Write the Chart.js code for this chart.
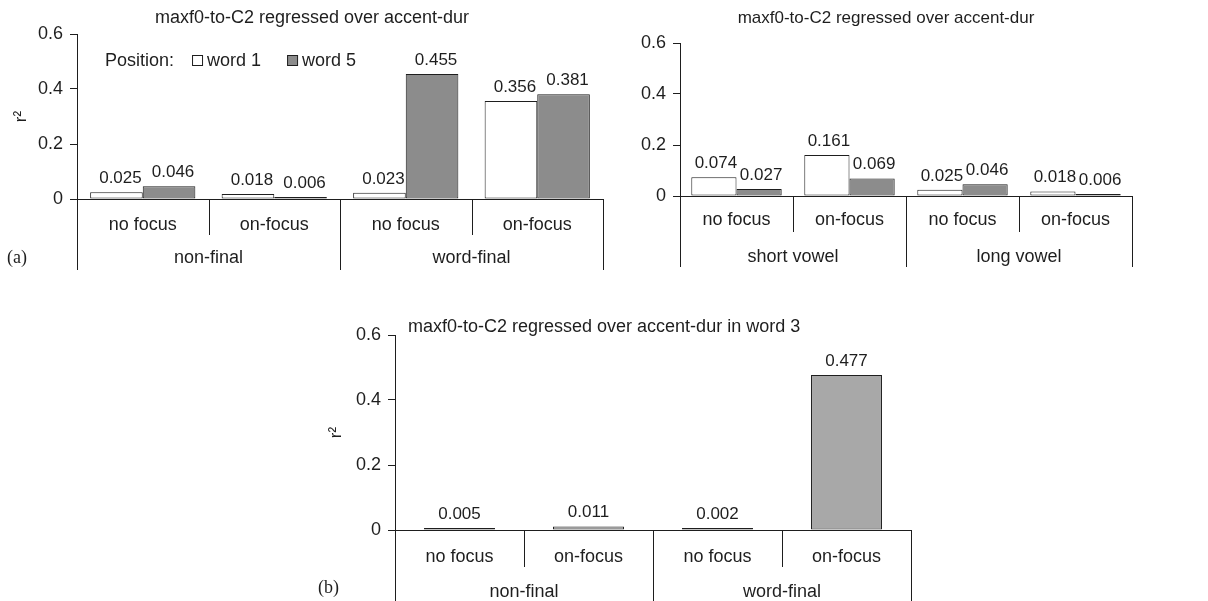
<!DOCTYPE html>
<html>
<head>
<meta charset="utf-8">
<script src="https://cdn.jsdelivr.net/npm/chart.js@4"></script>
<style>
  html, body { margin: 0; padding: 0; background: #ffffff; }
  body { width: 1208px; height: 601px; position: relative; overflow: hidden; }
  .panel { position: absolute; }
</style>
</head>
<body>
<div class="panel" style="left:0px;top:0px;width:620px;height:280px"><canvas id="chartBoundary"></canvas></div>
<div class="panel" style="left:620px;top:0px;width:588px;height:280px"><canvas id="chartVowel"></canvas></div>
<div class="panel" style="left:300px;top:280px;width:640px;height:321px"><canvas id="chartWord3"></canvas></div>
<script>
// ---- data ----
const focusLabels = ['no focus', 'on-focus', 'no focus', 'on-focus'];
const boundaryGroups = ['non-final', 'word-final'];
const vowelGroups = ['short vowel', 'long vowel'];
const seriesNames = ['word 1', 'word 5'];
const word3Name = 'word 3';
const yTicks = [0, 0.2, 0.4, 0.6];

const boundaryWord1 = [0.025, 0.018, 0.023, 0.356];
const boundaryWord5 = [0.046, 0.006, 0.455, 0.381];
const vowelWord1 = [0.074, 0.161, 0.025, 0.018];
const vowelWord5 = [0.027, 0.069, 0.046, 0.006];
const word3Values = [0.005, 0.011, 0.002, 0.477];

const titleTop = 'maxf0-to-C2 regressed over accent-dur';
const titleWord3 = 'maxf0-to-C2 regressed over accent-dur in word 3';

// ---- styling ----
const INK = '#1e1e1e';
const FONT = '"Liberation Sans", Arial, Helvetica, sans-serif';
const SERIF = '"Liberation Serif", "Times New Roman", serif';
const WHITE = '#ffffff';
const GREY_DARK = '#8c8c8c';
const GREY_LIGHT = '#a8a8a8';

Chart.defaults.font.family = FONT;
Chart.defaults.color = INK;
Chart.defaults.animation = false;

// Two-level category axis, value labels, titles, legend and panel tag
const decorations = {
  id: 'decorations',
  afterDraw(chart, args, o) {
    const { ctx, chartArea: a, scales: { x } } = chart;
    const n = chart.data.labels.length;
    const w = (x.right - x.left) / n;
    ctx.save();
    ctx.strokeStyle = INK;
    ctx.lineWidth = 1;

    // divider lines below the axis
    for (let k = 0; k <= n; k++) {
      const px = Math.round(x.left + k * w) + 0.5;
      const long = k % o.groupSize === 0;
      ctx.beginPath();
      ctx.moveTo(px, a.bottom);
      ctx.lineTo(px, a.bottom + (long ? o.longDrop : o.shortDrop));
      ctx.stroke();
    }

    // category labels
    ctx.fillStyle = INK;
    ctx.textAlign = 'center';
    ctx.textBaseline = 'middle';
    ctx.font = '18px ' + FONT;
    chart.data.labels.forEach((lab, i) => {
      ctx.fillText(lab, x.getPixelForValue(i), a.bottom + o.subOffset);
    });
    o.groups.forEach((g, gi) => {
      const cx = x.left + (gi + 0.5) * o.groupSize * w;
      ctx.fillText(g, cx, a.bottom + o.groupOffset);
    });

    // value labels above bars
    ctx.font = '17px ' + FONT;
    ctx.textBaseline = 'alphabetic';
    chart.data.datasets.forEach((ds, di) => {
      const meta = chart.getDatasetMeta(di);
      meta.data.forEach((bar, j) => {
        ctx.fillText(ds.data[j].toFixed(3), bar.x + (o.labelShift || 0), bar.y - 9);
      });
    });

    // chart title
    ctx.font = o.title.size + 'px ' + FONT;
    ctx.textAlign = o.title.align;
    ctx.textBaseline = 'middle';
    ctx.fillText(o.title.text, o.title.x, o.title.y);

    // legend
    if (o.legend) {
      const L = o.legend;
      ctx.font = '18px ' + FONT;
      ctx.textAlign = 'left';
      ctx.fillText(L.caption, L.x, L.y);
      let cx = L.x + ctx.measureText(L.caption).width + L.gapAfterCaption;
      chart.data.datasets.forEach((ds) => {
        ctx.fillStyle = ds.backgroundColor;
        ctx.fillRect(cx + 0.5, L.y - 5.5, 10, 10);
        ctx.strokeStyle = INK;
        ctx.strokeRect(cx + 0.5, L.y - 5.5, 10, 10);
        ctx.fillStyle = INK;
        ctx.fillText(ds.label, cx + 15, L.y);
        cx += 15 + ctx.measureText(ds.label).width + L.gapBetween;
      });
    }

    // panel tag
    if (o.tag) {
      ctx.font = '18px ' + SERIF;
      ctx.textAlign = 'left';
      ctx.fillStyle = INK;
      ctx.fillText(o.tag.text, o.tag.x, o.tag.y);
    }
    ctx.restore();
  }
};

function yAxis(area, showTitle, titlePad) {
  return {
    type: 'linear',
    min: 0,
    max: 0.6,
    afterBuildTicks: (s) => { s.ticks = yTicks.map(v => ({ value: v })); },
    afterFit: (s) => { s.width = area.l; },
    ticks: {
      font: { size: 18 },
      color: INK,
      padding: 7,
      callback: (v) => (v === 0 ? '0' : v.toFixed(1))
    },
    grid: { display: true, drawOnChartArea: false, drawTicks: true, tickLength: 7, color: INK },
    border: { display: true, color: INK, width: 1 },
    title: {
      display: showTitle,
      text: 'r²',
      font: { size: 17 },
      color: INK,
      padding: { top: titlePad, bottom: 0 }
    }
  };
}

function xAxis(area, height) {
  return {
    type: 'category',
    offset: true,
    afterFit: (s) => { s.height = height - area.b; },
    ticks: { display: false },
    grid: { display: false },
    border: { display: true, color: INK, width: 1 }
  };
}

function barSet(label, data, fill) {
  return {
    label: label,
    data: data,
    backgroundColor: fill,
    borderColor: INK,
    borderWidth: 1,
    borderSkipped: false,
    minBarLength: 2
  };
}

function makeChart(id, width, height, area, datasets, catPct, deco, showTitle, titlePad) {
  return new Chart(document.getElementById(id), {
    type: 'bar',
    data: { labels: focusLabels, datasets: datasets },
    options: {
      responsive: true,
      maintainAspectRatio: false,
      datasets: { bar: { categoryPercentage: catPct, barPercentage: 1.0 } },
      layout: { padding: { left: 0, top: area.t, right: width - area.r, bottom: 0 } },
      scales: { x: xAxis(area, height), y: yAxis(area, showTitle, titlePad) },
      plugins: {
        legend: { display: false },
        tooltip: { enabled: false },
        decorations: deco
      }
    },
    plugins: [decorations]
  });
}

// (a) left: boundary position
makeChart('chartBoundary', 620, 280, { l: 77, t: 34, r: 603, b: 199 },
  [barSet(seriesNames[0], boundaryWord1, WHITE), barSet(seriesNames[1], boundaryWord5, GREY_DARK)],
  0.8,
  {
    groupSize: 2, groups: boundaryGroups,
    shortDrop: 36, longDrop: 71, subOffset: 26, groupOffset: 59, labelShift: 4,
    title: { text: titleTop, x: 312, y: 18, align: 'center', size: 18 },
    legend: { caption: 'Position:', x: 105, y: 61, gapAfterCaption: 18, gapBetween: 26 },
    tag: { text: '(a)', x: 7, y: 258 }
  }, true, 11);

// (a) right: vowel length
makeChart('chartVowel', 588, 280, { l: 60, t: 43, r: 512, b: 196 },
  [barSet(seriesNames[0], vowelWord1, WHITE), barSet(seriesNames[1], vowelWord5, GREY_DARK)],
  0.8,
  {
    groupSize: 2, groups: vowelGroups,
    shortDrop: 36, longDrop: 71, subOffset: 24, groupOffset: 61, labelShift: 2,
    title: { text: titleTop, x: 266, y: 18, align: 'center', size: 17 }
  }, false, 0);

// (b) word 3
makeChart('chartWord3', 640, 321, { l: 95, t: 55, r: 611, b: 250 },
  [barSet(word3Name, word3Values, GREY_LIGHT)],
  0.55,
  {
    groupSize: 2, groups: boundaryGroups,
    shortDrop: 37, longDrop: 80, subOffset: 27, groupOffset: 62, labelShift: 0,
    title: { text: titleWord3, x: 108, y: 47, align: 'left', size: 18 },
    tag: { text: '(b)', x: 18, y: 308 }
  }, true, 26);
</script>
</body>
</html>
